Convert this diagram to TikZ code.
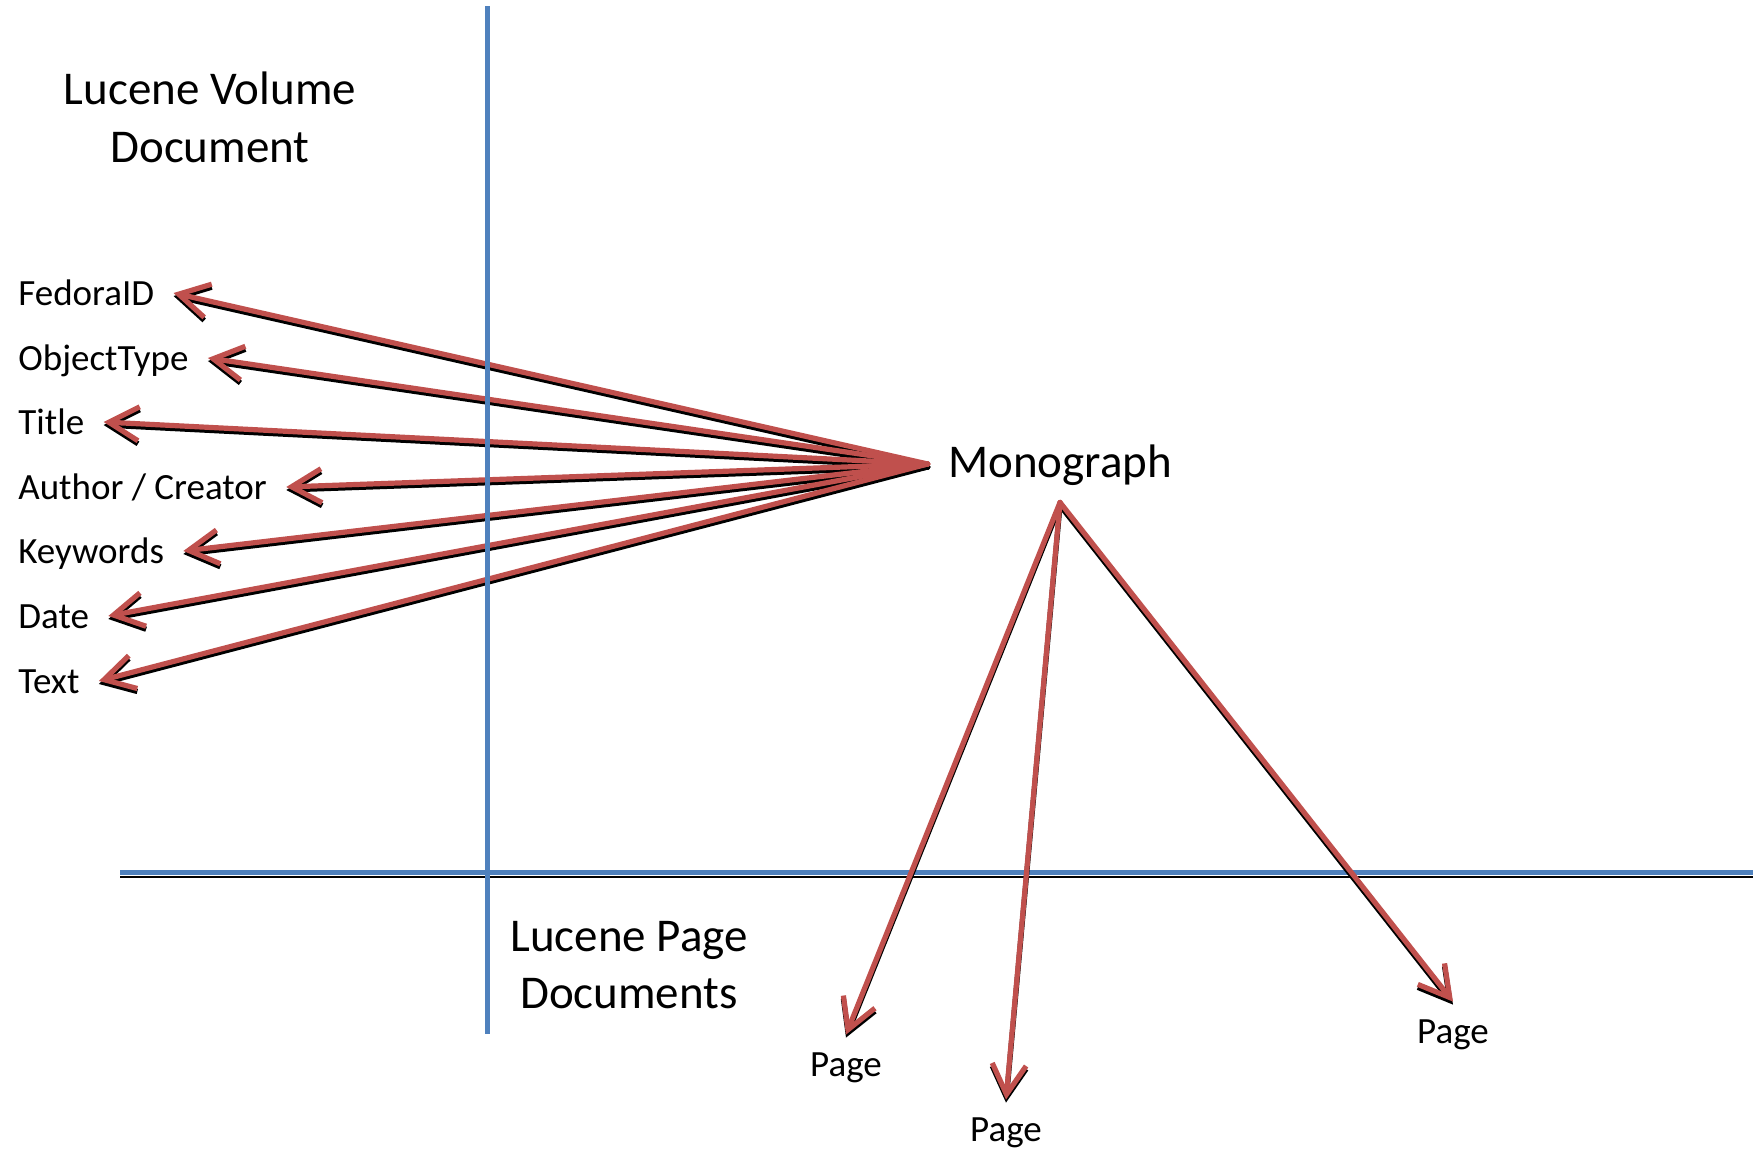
\documentclass[tikz,border=0pt]{standalone}
\usepackage{fontspec}
\setmainfont{Carlito}
\usetikzlibrary{arrows.meta}
\definecolor{arrred}{HTML}{C0504D}
\definecolor{lineblue}{HTML}{4F81BD}
\begin{document}
\begin{tikzpicture}[x=0.5pt,y=-0.5pt,
  field/.style={font=\fontsize{18.5}{22}\selectfont, inner xsep=9.5pt, inner ysep=0pt, text height=12pt, text depth=0pt, anchor=base west},
  pagelbl/.style={font=\fontsize{18.5}{22}\selectfont, inner xsep=2pt, inner ysep=8.5pt, text height=12pt, text depth=0pt, anchor=base},
  monolbl/.style={font=\fontsize{23.5}{29}\selectfont, inner xsep=10pt, inner ysep=12.5pt, text height=13pt, text depth=0pt, anchor=base},
  heading/.style={font=\fontsize{23.5}{28.5}\selectfont, align=center, inner sep=0pt, anchor=base},
  arrbase/.style={line width=2.6pt, line cap=round, line join=round,
    -{Straight Barb[length=15pt,width=17pt]}},
  arr/.style={arrbase, draw=arrred},
  arrshadow/.style={arrbase, draw=black},
  divider/.style={draw=lineblue, line width=2.5pt}
]
\useasboundingbox (0,0) rectangle (1753,1151);

% dividers
\coordinate (vtop) at (487,6);
\coordinate (vbot) at (487,1034);
\coordinate (hl) at (120,872);
\coordinate (hr) at (1753,872);
\draw[black, line width=0.7pt] ([yshift=-2.4pt]hl) -- ([yshift=-2.4pt]hr);
\draw[divider] (hl) -- (hr);

% headings
\node[heading] (vol) at (210,162) {Lucene Volume\\Document};
\node[heading] (pgdocs) at (629,1008) {Lucene Page\\Documents};

% labels
\node[field] (fedora) at (-1,305) {FedoraID};
\node[field] (otype) at (-1,370) {ObjectType};
\node[field] (title) at (-1,434) {Title};
\node[field] (author) at (-1,499) {Author / Creator};
\node[field] (kw) at (-1,563) {Keywords};
\node[field] (date) at (-1,628) {Date};
\node[field] (text) at (-1,693) {Text};

\node[monolbl] (mono) at (1060,477) {Monograph};

\node[pagelbl] (page1) at (846,1076) {Page};
\node[pagelbl] (page2) at (1006,1141) {Page};
\node[pagelbl] (page3) at (1453,1043) {Page};

% arrows: shadow, then red
\def\arrowlist{mono.west/fedora.east, mono.west/otype.east, mono.west/title.east,
  mono.west/author.east, mono.west/kw.east, mono.west/date.east, mono.west/text.east,
  mono.south/page1.north, mono.south/page2.north, mono.south/page3.north}
\begin{scope}[transform canvas={shift={(0pt,-1.5pt)}}]
  \foreach \a/\b in \arrowlist { \draw[arrshadow] (\a) -- (\b); }
\end{scope}
\foreach \a/\b in \arrowlist { \draw[arr] (\a) -- (\b); }

% vertical divider on top
\draw[divider] (vtop) -- (vbot);
\end{tikzpicture}
\end{document}
